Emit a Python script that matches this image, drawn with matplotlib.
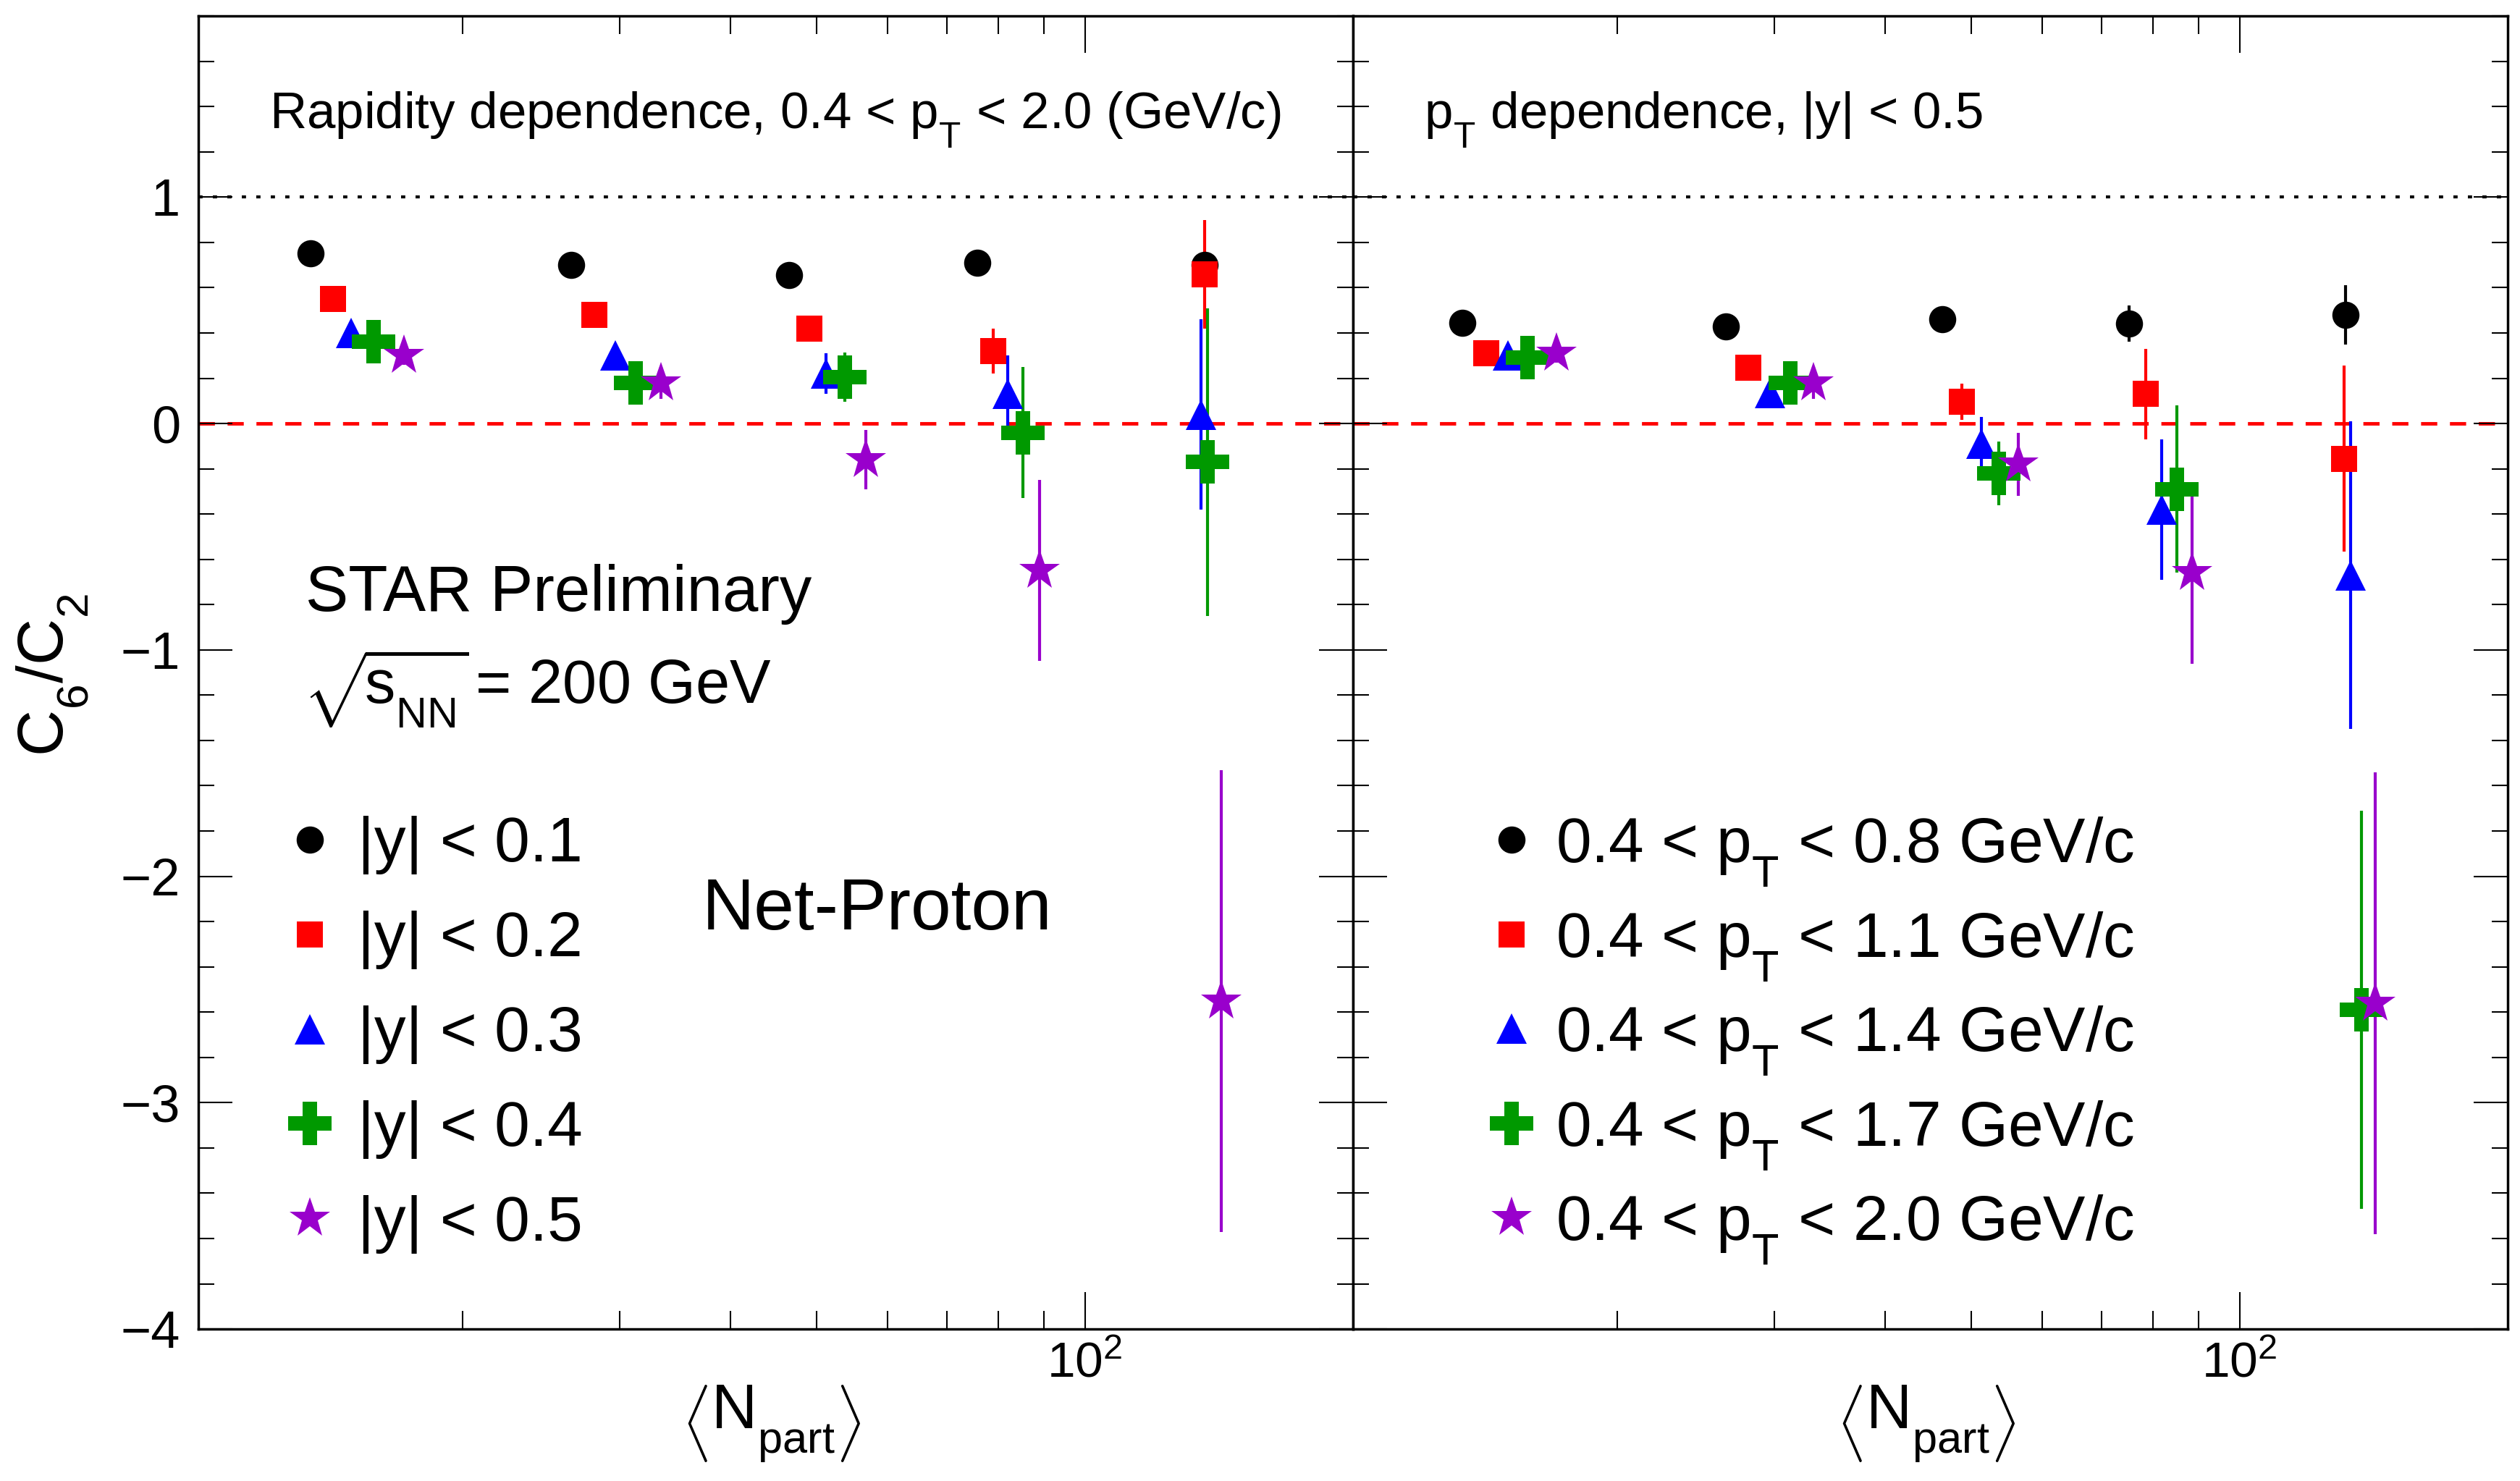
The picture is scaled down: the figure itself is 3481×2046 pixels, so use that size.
import matplotlib
matplotlib.use("Agg")
import matplotlib.pyplot as plt
from matplotlib.lines import Line2D
from matplotlib.ticker import FixedLocator, NullFormatter, MultipleLocator

plt.rcParams['font.family'] = ['Liberation Sans', 'DejaVu Sans']
plt.rcParams['mathtext.fontset'] = 'custom'
plt.rcParams['mathtext.rm'] = 'Liberation Sans'
plt.rcParams['mathtext.it'] = 'Liberation Sans'
plt.rcParams['mathtext.default'] = 'regular'

# ROOT puts subscripts lower than mathtext does
try:
    import matplotlib._mathtext as _mt
    _mt.FontConstantsBase.sub1 = 0.75
except Exception:
    pass

# ---- rapidity dependence, 0.4 < pT < 2.0 GeV/c (left panel) ----
rap_labels = ["|y| < 0.1", "|y| < 0.2", "|y| < 0.3", "|y| < 0.4", "|y| < 0.5"]
rap_x = [
    [13.5, 26.5, 46.5, 75.7, 136.4],
    [14.3, 28.1, 49.0, 78.9, 136.4],
    [15.0, 29.7, 51.2, 81.9, 135.1],
    [15.9, 31.3, 53.7, 85.2, 137.2],
    [17.2, 33.4, 56.7, 89.0, 142.4],
]
rap_y = [
    [0.75, 0.70, 0.655, 0.71, 0.70],
    [0.55, 0.48, 0.42, 0.32, 0.66],
    [0.40, 0.30, 0.22, 0.13, 0.04],
    [0.36, 0.18, 0.205, -0.04, -0.17],
    [0.30, 0.18, -0.16, -0.65, -2.55],
]
rap_err = [
    [0.02, 0.02, 0.03, 0.04, 0.05],
    [0.02, 0.03, 0.04, 0.10, 0.24],
    [0.03, 0.04, 0.09, 0.17, 0.42],
    [0.05, 0.06, 0.11, 0.29, 0.68],
    [0.04, 0.07, 0.13, 0.40, 1.02],
]

# ---- pT dependence, |y| < 0.5 (right panel) ----
pt_labels = [r"0.4 < $p_{T}$ < 0.8 GeV/c", r"0.4 < $p_{T}$ < 1.1 GeV/c",
             r"0.4 < $p_{T}$ < 1.4 GeV/c", r"0.4 < $p_{T}$ < 1.7 GeV/c",
             r"0.4 < $p_{T}$ < 2.0 GeV/c"]
pt_x = [
    [13.4, 26.5, 46.4, 75.2, 131.5],
    [14.25, 28.05, 48.8, 78.5, 130.9],
    [15.07, 29.7, 51.3, 81.7, 133.2],
    [15.85, 31.3, 53.6, 85.0, 137.0],
    [17.1, 33.2, 56.4, 88.5, 142.0],
]
pt_y = [
    [0.445, 0.43, 0.46, 0.44, 0.48],
    [0.31, 0.245, 0.095, 0.13, -0.155],
    [0.30, 0.135, -0.09, -0.38, -0.67],
    [0.29, 0.18, -0.22, -0.29, -2.59],
    [0.31, 0.18, -0.18, -0.66, -2.56],
]
pt_err = [
    [0.02, 0.02, 0.03, 0.08, 0.13],
    [0.03, 0.04, 0.08, 0.20, 0.41],
    [0.03, 0.04, 0.12, 0.31, 0.68],
    [0.05, 0.07, 0.14, 0.37, 0.88],
    [0.04, 0.07, 0.14, 0.40, 1.02],
]

colors = ["black", "#ff0000", "#0000ff", "#009900", "#9900cc"]
markers = ["o", "s", "^", "P", "*"]
msizes = [27, 26, 30, 43, 42]

fig = plt.figure(figsize=(34.81, 20.46), dpi=100)
L, B, W, H = 0.0787, 0.1026, 0.4582, 0.8866
axl = fig.add_axes([L, B, W, H])
axr = fig.add_axes([L + W, B, W, H], sharey=axl)


def style_axis(ax):
    ax.set_xscale("log")
    ax.set_xlim(10.1, 200)
    ax.set_ylim(-4, 1.8)
    ax.xaxis.set_major_locator(FixedLocator([100]))
    ax.xaxis.set_minor_locator(FixedLocator([20, 30, 40, 50, 60, 70, 80, 90]))
    ax.xaxis.set_minor_formatter(NullFormatter())
    ax.set_xticklabels([r"$10^{2}$"])
    ax.yaxis.set_major_locator(MultipleLocator(1))
    ax.yaxis.set_minor_locator(MultipleLocator(0.2))
    ax.tick_params(which="both", direction="in", top=True, right=True, width=1.5)
    ax.tick_params(axis="x", which="major", length=37, labelsize=50, pad=12)
    ax.tick_params(axis="x", which="minor", length=18)
    ax.tick_params(axis="y", which="major", length=34, labelsize=52, pad=18)
    ax.tick_params(axis="y", which="minor", length=16)
    for s in ax.spines.values():
        s.set_linewidth(2.5)
    ax.axhline(1, color="black", lw=3, ls=(0, (1.4, 3.4)), zorder=1)
    ax.axhline(0, color="red", lw=3.5, ls=(0, (4.6, 3.6)), zorder=1)
    ax.text(0.496, -0.072, r"$\left\langle N_{part}\right\rangle$", transform=ax.transAxes,
            ha="center", va="center", fontsize=63)


def draw_series(ax, xs, ys, es):
    for x, y, e, c, m, ms in zip(xs, ys, es, colors, markers, msizes):
        ax.errorbar(x, y, yerr=e, fmt=m, color=c, ms=ms, mew=0, elinewidth=3,
                    capsize=0, zorder=3)


style_axis(axl)
style_axis(axr)
axr.tick_params(labelleft=False)

draw_series(axl, rap_x, rap_y, rap_err)
draw_series(axr, pt_x, pt_y, pt_err)

handles = [Line2D([], [], ls="none", marker=m, color=c, ms=ms, mew=0)
           for c, m, ms in zip(colors, markers, msizes)]

axl.legend(handles, rap_labels, loc="center left", bbox_to_anchor=(0.0803, 0.224),
           frameon=False, fontsize=63, handlelength=0.6, handletextpad=0.45,
           labelspacing=0.57, borderpad=0, borderaxespad=0)
axr.legend(handles, pt_labels, loc="center left", bbox_to_anchor=(0.121, 0.2195),
           frameon=False, fontsize=63, handlelength=0.6, handletextpad=0.4,
           labelspacing=0.34, borderpad=0, borderaxespad=0)

axl.text(0.0615, 0.9147, r"Rapidity dependence, 0.4 < $p_{T}$ < 2.0 (GeV/c)",
         transform=axl.transAxes, fontsize=51, va="baseline")
axr.text(0.0615, 0.9147, r"$p_{T}$ dependence, |y| < 0.5",
         transform=axr.transAxes, fontsize=51, va="baseline")

axl.text(0.0928, 0.547, "STAR Preliminary", transform=axl.transAxes,
         fontsize=64, va="baseline")
axl.text(0.0905, 0.4764, r"$\sqrt{\!s_{NN}}\!$ = 200 GeV", transform=axl.transAxes,
         fontsize=61, va="baseline")
axl.text(0.4364, 0.3045, "Net-Proton", transform=axl.transAxes,
         fontsize=72, va="baseline")

fig.text(0.021, 0.5445, r"$C_{6}/C_{2}$", rotation=90, ha="center", va="center",
         fontsize=64)

fig.savefig("out.png", dpi=100)
